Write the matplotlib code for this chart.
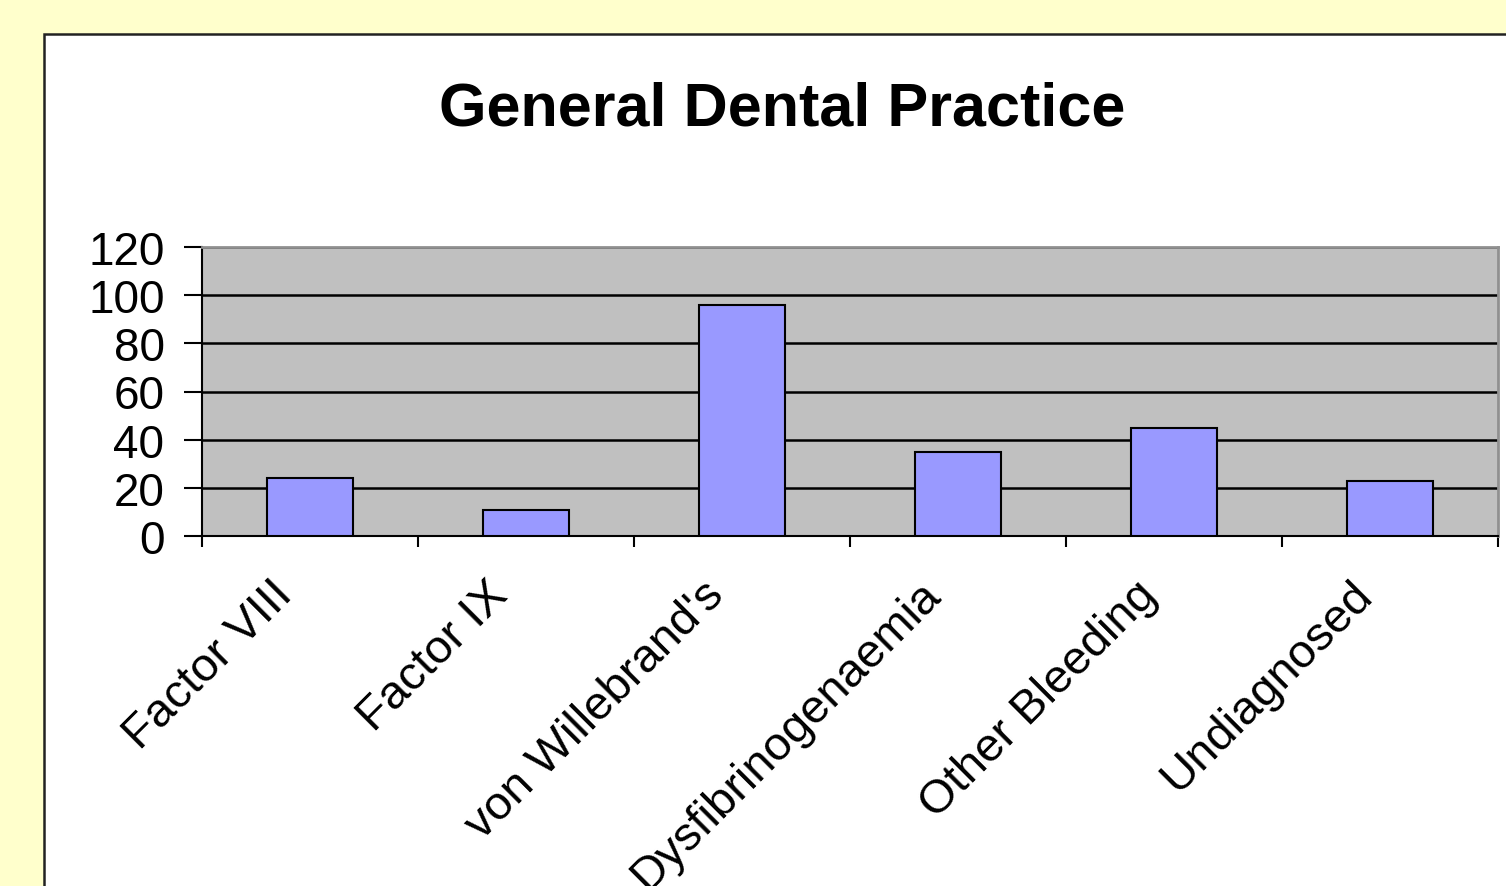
import matplotlib
matplotlib.use('Agg')
import matplotlib.pyplot as plt
from matplotlib.patches import Rectangle
from matplotlib.transforms import ScaledTranslation
import numpy as np

plt.rcParams['font.family'] = ['Liberation Sans', 'DejaVu Sans']

# ── 数据 ──────────────────────────────────────────────
categories = ['Factor VIII', 'Factor IX', "von Willebrand's",
              'Dysfibrinogenaemia', 'Other Bleeding', 'Undiagnosed']
counts = [24, 11, 96, 35, 45, 23]
y_ticks = [0, 20, 40, 60, 80, 100, 120]

fig = plt.figure(figsize=(15.06, 8.87), dpi=100)
fig.patch.set_facecolor('#FFFFCC')

# 白色图表面板（右侧和底部超出画布），放在坐标轴下面
panel = Rectangle((44 / 1506, -0.1), 1.2, (887 - 35) / 887 + 0.1,
                  transform=fig.transFigure, facecolor='white',
                  edgecolor='#222222', linewidth=1.8, zorder=-10)
fig.add_artist(panel)

fig.text(782 / 1506, 1 - 110 / 887, 'General Dental Practice',
         ha='center', va='center', fontsize=44, fontweight='bold')

ax = fig.add_axes([202 / 1506, (887 - 537) / 887,
                   (1498 - 202) / 1506, (537 - 248) / 887])
ax.set_facecolor('#C0C0C0')

x = np.arange(len(categories))
ax.bar(x, counts, width=0.4, color='#9999FF', edgecolor='black',
       linewidth=1.5, zorder=3)

ax.set_xlim(-0.5, len(categories) - 0.5)
ax.set_ylim(0, 120)
ax.set_yticks(y_ticks)
ax.set_yticklabels([str(v) for v in y_ticks], fontsize=33)
ax.yaxis.grid(True, color='black', linewidth=1.8)
ax.set_axisbelow(True)

# x 轴刻度在类别边界
ax.set_xticks(np.arange(len(categories) + 1) - 0.5)
ax.set_xticklabels([])
ax.tick_params(axis='x', length=8, width=1.5, direction='out')
ax.tick_params(axis='y', length=13, width=1.5, direction='out', pad=14)

# 类别标签：45° 旋转，右上角靠近类别中心偏左
shift = ScaledTranslation(-0.40, -0.36, fig.dpi_scale_trans)
for i, name in enumerate(categories):
    ax.text(i, 0, name, transform=ax.get_xaxis_transform() + shift,
            rotation=45, rotation_mode='anchor', ha='right', va='top',
            fontsize=34, clip_on=False)

for side in ['left', 'bottom']:
    ax.spines[side].set_color('black')
    ax.spines[side].set_linewidth(1.5)
for side in ['top', 'right']:
    ax.spines[side].set_color('#909090')
    ax.spines[side].set_linewidth(2)

plt.savefig('out.png', dpi=100, facecolor=fig.get_facecolor())
